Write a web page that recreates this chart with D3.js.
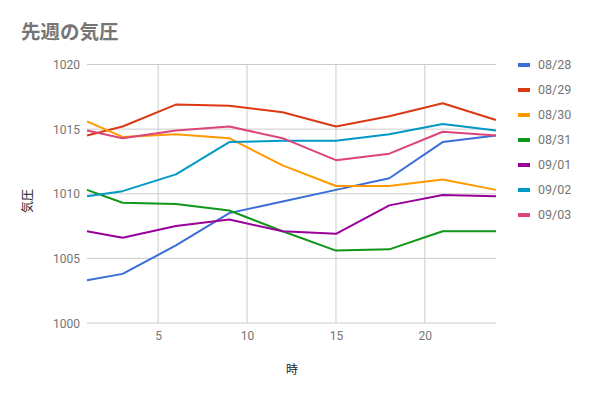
<!DOCTYPE html>
<html>
<head>
<meta charset="utf-8">
<script src="https://cdn.jsdelivr.net/npm/d3@7"></script>
<style>
  body { margin: 0; background: #fff; }
  svg { display: block; font-family: Roboto, "Noto Sans CJK JP", sans-serif; }
</style>
</head>
<body>
<svg id="chart" width="591" height="397"></svg>
<script>
// ── Data ──────────────────────────────────────────────
const hours  = [1, 3, 6, 9, 12, 15, 18, 21, 24];
const days   = ['08/28', '08/29', '08/30', '08/31', '09/01', '09/02', '09/03'];
const colors = ['#3a6ed6', '#dc3912', '#ff9900', '#109618', '#990099', '#0099c6', '#dd4477'];

const p0828 = [1003.3, 1003.8, 1006.0, 1008.5, 1009.4, 1010.3, 1011.2, 1014.0, 1014.5];
const p0829 = [1014.5, 1015.2, 1016.9, 1016.8, 1016.3, 1015.2, 1016.0, 1017.0, 1015.7];
const p0830 = [1015.6, 1014.4, 1014.6, 1014.3, 1012.2, 1010.6, 1010.6, 1011.1, 1010.3];
const p0831 = [1010.3, 1009.3, 1009.2, 1008.7, 1007.1, 1005.6, 1005.7, 1007.1, 1007.1];
const p0901 = [1007.1, 1006.6, 1007.5, 1008.0, 1007.1, 1006.9, 1009.1, 1009.9, 1009.8];
const p0902 = [1009.8, 1010.2, 1011.5, 1014.0, 1014.1, 1014.1, 1014.6, 1015.4, 1014.9];
const p0903 = [1014.9, 1014.3, 1014.9, 1015.2, 1014.3, 1012.6, 1013.1, 1014.8, 1014.5];
const series = [p0828, p0829, p0830, p0831, p0901, p0902, p0903];

const xTicks = [5, 10, 15, 20];
const yTicks = [1000, 1005, 1010, 1015, 1020];

// ── Layout ────────────────────────────────────────────
const svg = d3.select('#chart');
const L = 87, R = 496, T = 64.5, B = 323;

const x = d3.scaleLinear().domain([1, 24]).range([L, R]);
const y = d3.scaleLinear().domain([1000, 1020]).range([B, T]);

// title
svg.append('text')
  .attr('x', 21).attr('y', 39)
  .attr('font-family', '"Noto Sans CJK JP", sans-serif')
  .attr('font-size', 19.5).attr('font-weight', 'bold')
  .attr('fill', '#757575')
  .text('先週の気圧');

// grid
const grid = svg.append('g');
grid.selectAll('.hg').data(yTicks).join('line')
  .attr('x1', L).attr('x2', R)
  .attr('y1', d => y(d)).attr('y2', d => y(d))
  .attr('stroke', '#cccccc').attr('stroke-width', 1);
grid.selectAll('.vg').data(xTicks).join('line')
  .attr('x1', d => x(d)).attr('x2', d => x(d))
  .attr('y1', T).attr('y2', B)
  .attr('stroke', '#cccccc').attr('stroke-width', 1);

// axes (labels only, lines drawn by the grid)
const yAxis = svg.append('g')
  .attr('transform', `translate(${L - 7},0)`)
  .call(d3.axisLeft(y).tickValues(yTicks).tickFormat(d3.format('d')).tickSize(0).tickPadding(0));
const xAxis = svg.append('g')
  .attr('transform', `translate(0,${B + 8})`)
  .call(d3.axisBottom(x).tickValues(xTicks).tickFormat(d3.format('d')).tickSize(0).tickPadding(0));
[yAxis, xAxis].forEach(a => {
  a.select('.domain').remove();
  a.selectAll('text')
    .attr('font-family', 'Roboto, sans-serif')
    .attr('font-size', 12).attr('fill', '#757575');
});
yAxis.selectAll('text').attr('dy', '0.35em');
xAxis.selectAll('text').attr('dy', '0.71em');

// axis titles
svg.append('text')
  .attr('x', 292).attr('y', 374)
  .attr('text-anchor', 'middle')
  .attr('font-family', '"Noto Sans CJK JP", sans-serif')
  .attr('font-size', 12).attr('fill', '#222')
  .text('時');
svg.append('text')
  .attr('transform', 'translate(32,201) rotate(-90)')
  .attr('text-anchor', 'middle')
  .attr('font-family', '"Noto Sans CJK JP", sans-serif')
  .attr('font-size', 12).attr('fill', '#222')
  .text('気圧');

// lines
const line = d3.line().x((d, i) => x(hours[i])).y(d => y(d));
svg.append('g').selectAll('path').data(series).join('path')
  .attr('d', line)
  .attr('fill', 'none')
  .attr('stroke', (d, i) => colors[i])
  .attr('stroke-width', 2)
  .attr('stroke-linejoin', 'round');

// legend
const leg = svg.append('g').selectAll('g').data(days).join('g')
  .attr('transform', (d, i) => `translate(518,${65 + i * 25})`);
leg.append('rect')
  .attr('x', 0).attr('y', -2).attr('width', 12).attr('height', 4)
  .attr('fill', (d, i) => colors[i]);
leg.append('text')
  .attr('x', 20).attr('dy', '0.35em')
  .attr('font-family', 'Roboto, sans-serif')
  .attr('font-size', 12.5).attr('fill', '#757575')
  .text(d => d);
</script>
</body>
</html>
